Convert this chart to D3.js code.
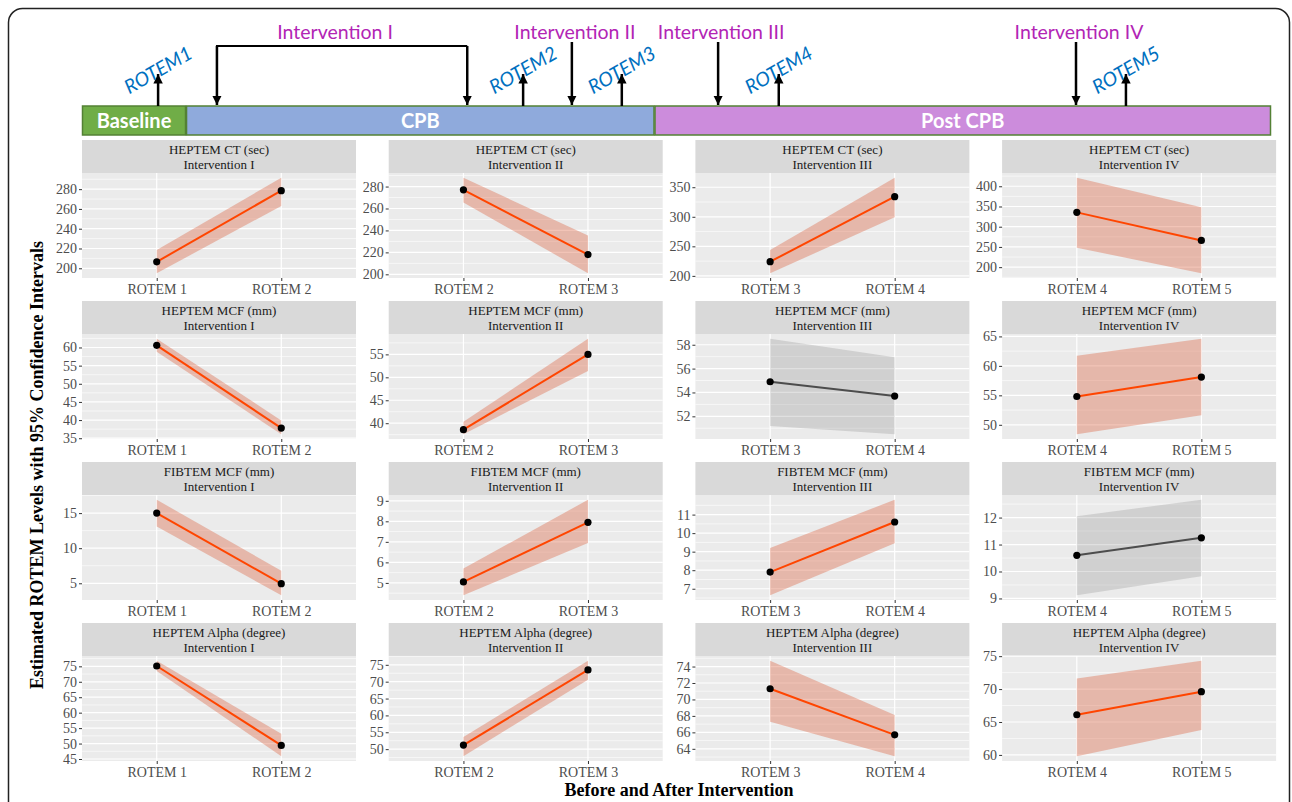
<!DOCTYPE html>
<html>
<head>
<meta charset="utf-8">
<script src="https://cdn.jsdelivr.net/npm/d3@7"></script>
<style>
  body { margin: 0; background: #fff; }
</style>
</head>
<body>
<div id="chart"></div>
<script>
// facet labels
var MEASURES = ["HEPTEM CT (sec)", "HEPTEM MCF (mm)", "FIBTEM MCF (mm)", "HEPTEM Alpha (degree)"];
var INTERVENTIONS = ["Intervention I", "Intervention II", "Intervention III", "Intervention IV"];
var TIMEPOINTS = [["ROTEM 1", "ROTEM 2"], ["ROTEM 2", "ROTEM 3"], ["ROTEM 3", "ROTEM 4"], ["ROTEM 4", "ROTEM 5"]];

// estimate, lower and upper 95% CI: one [before, after] pair per intervention
var ctEst  = [[206.5, 278.5], [277, 218], [224, 334], [335.5, 266]];
var ctLow  = [[195, 263], [265.5, 201], [204.5, 299], [248, 185]];
var ctHigh = [[218.5, 291.5], [288, 235.5], [244, 366], [421, 348]];
var ctTicks = [[200, 220, 240, 260, 280], [200, 220, 240, 260, 280], [200, 250, 300, 350], [200, 250, 300, 350, 400]];

var mcfEst  = [[60.6, 37.8], [38.6, 55.0], [54.9, 53.7], [54.8, 58.1]];
var mcfLow  = [[58.8, 36.1], [37.6, 51.4], [51.2, 50.5], [48.4, 51.6]];
var mcfHigh = [[62.4, 39.9], [40.3, 58.4], [58.5, 56.95], [61.7, 64.6]];
var mcfTicks = [[35, 40, 45, 50, 55, 60], [40, 45, 50, 55], [52, 54, 56, 58], [50, 55, 60, 65]];

var fibEst  = [[15.0, 4.95], [5.05, 7.95], [7.9, 10.6], [10.6, 11.25]];
var fibLow  = [[13.1, 3.3], [4.4, 6.95], [6.65, 9.45], [9.12, 9.82]];
var fibHigh = [[16.9, 6.8], [5.7, 9.05], [9.2, 11.8], [12.05, 12.66]];
var fibTicks = [[5, 10, 15], [5, 6, 7, 8, 9], [7, 8, 9, 10, 11], [9, 10, 11, 12]];

var alphaEst  = [[75.1, 49.4], [51.2, 73.5], [71.3, 65.7], [66.1, 69.6]];
var alphaLow  = [[73.5, 45.9], [47.9, 70.6], [67.3, 63.1], [59.8, 63.8]];
var alphaHigh = [[76.8, 53.2], [53.6, 76.2], [74.7, 68.1], [71.6, 74.3]];
var alphaTicks = [[45, 50, 55, 60, 65, 70, 75], [50, 55, 60, 65, 70, 75], [64, 66, 68, 70, 72, 74], [60, 65, 70, 75]];

// panels where the change was not significant (drawn grey)
var NOT_SIGNIFICANT = [["HEPTEM MCF (mm)", "Intervention III"], ["FIBTEM MCF (mm)", "Intervention IV"]];

// timeline diagram, positions in timeline units 0..100
var PHASES = ["Baseline", "CPB", "Post CPB"];
var phaseEnd = [8.75, 48.15, 100];
var ROTEM_LABELS = ["ROTEM1", "ROTEM2", "ROTEM3", "ROTEM4", "ROTEM5"];
var rotemAt = [6.4, 37.1, 45.4, 58.6, 87.8];
var interventionAt = [[11.35, 32.4], [41.2], [53.5], [83.6]];

var estAll = [ctEst, mcfEst, fibEst, alphaEst];
var lowAll = [ctLow, mcfLow, fibLow, alphaLow];
var highAll = [ctHigh, mcfHigh, fibHigh, alphaHigh];
var ticksAll = [ctTicks, mcfTicks, fibTicks, alphaTicks];

var W = 1292, H = 802;
var SERIF = "'Liberation Serif', 'Times New Roman', serif";
var SANS = "Lato, Carlito, Calibri, 'Open Sans', sans-serif";

var svg = d3.select("#chart").append("svg")
    .attr("width", W)
    .attr("height", H)
    .style("display", "block");

svg.append("rect")
    .attr("x", 8.5).attr("y", 8.5)
    .attr("width", 1281).attr("height", 830)
    .attr("rx", 14)
    .attr("fill", "#fff")
    .attr("stroke", "#222")
    .attr("stroke-width", 1.5);

// ---------- timeline ----------
var tx = d3.scaleLinear().domain([0, 100]).range([82, 1271]);
var barTop = 106, barH = 29;
var phaseColors = ["#70AD47", "#8FAADC", "#CC8CDC"];

var defs = svg.append("defs");
defs.append("marker")
    .attr("id", "head")
    .attr("viewBox", "0 0 10 10")
    .attr("refX", 10).attr("refY", 5)
    .attr("markerWidth", 3.8).attr("markerHeight", 3.8)
    .attr("markerUnits", "strokeWidth")
    .attr("orient", "auto")
    .append("path")
    .attr("d", "M0,0L10,5L0,10z")
    .attr("fill", "#000");

var tl = svg.append("g");
PHASES.forEach(function (p, i) {
    var x0 = tx(i === 0 ? 0 : phaseEnd[i - 1]), x1 = tx(phaseEnd[i]);
    tl.append("rect")
        .attr("x", x0 + 0.5).attr("y", barTop)
        .attr("width", x1 - x0 - 1).attr("height", barH)
        .attr("fill", phaseColors[i])
        .attr("stroke", "#538135")
        .attr("stroke-width", 1.5);
    tl.append("text")
        .attr("x", (x0 + x1) / 2).attr("y", barTop + barH / 2)
        .attr("dy", "0.35em")
        .attr("text-anchor", "middle")
        .style("font-family", SANS)
        .style("font-weight", "bold")
        .style("font-size", "20px")
        .attr("fill", "#fff")
        .text(p);
});

// up arrows at each ROTEM measurement
rotemAt.forEach(function (t, i) {
    tl.append("line")
        .attr("x1", tx(t)).attr("x2", tx(t))
        .attr("y1", barTop).attr("y2", 74)
        .attr("stroke", "#000").attr("stroke-width", 2.5)
        .attr("marker-end", "url(#head)");
    tl.append("text")
        .attr("transform", "translate(" + tx(t) + ",70) rotate(-30)")
        .attr("dy", "0.35em")
        .attr("text-anchor", "middle")
        .style("font-family", SANS)
        .style("font-style", "italic")
        .style("font-size", "19.5px")
        .attr("fill", "#0070C0")
        .text(ROTEM_LABELS[i]);
});

// down arrows (and a bracket for intervention I)
interventionAt.forEach(function (ts, i) {
    var topY = ts.length > 1 ? 46 : 42;
    if (ts.length > 1) {
        tl.append("path")
            .attr("d", "M" + tx(ts[0]) + "," + (barTop - 1) + "V" + topY + "H" + tx(ts[1]))
            .attr("fill", "none").attr("stroke", "#000").attr("stroke-width", 2);
    }
    ts.forEach(function (t) {
        tl.append("line")
            .attr("x1", tx(t)).attr("x2", tx(t))
            .attr("y1", topY).attr("y2", barTop - 1)
            .attr("stroke", "#000").attr("stroke-width", 2.5)
            .attr("marker-end", "url(#head)");
    });
    var cx = ts.length > 1 ? (tx(ts[0]) + tx(ts[1])) / 2 - 7 : tx(ts[0]) + 3;
    tl.append("text")
        .attr("x", cx).attr("y", 32)
        .attr("dy", "0.35em")
        .attr("text-anchor", "middle")
        .style("font-family", SANS)
        .style("font-size", "19.5px")
        .attr("fill", "#B225B5")
        .text(INTERVENTIONS[i]);
});

// ---------- facet grid ----------
var colLeft = 82, colStep = 306.7, panelW = 274;
var rowTop = 140, rowStep = 161, stripH = 33, plotH = 105;

function isGrey(m, iv) {
    return NOT_SIGNIFICANT.some(function (d) { return d[0] === m && d[1] === iv; });
}

MEASURES.forEach(function (measure, r) {
    INTERVENTIONS.forEach(function (iv, c) {
        var left = colLeft + colStep * c;
        var sTop = rowTop + rowStep * r;
        var pTop = sTop + stripH, pBot = pTop + plotH;

        var rows = TIMEPOINTS[c].map(function (tp, k) {
            return { tp: tp, est: estAll[r][c][k], lo: lowAll[r][c][k], hi: highAll[r][c][k] };
        });
        var ticks = ticksAll[r][c];

        var x = d3.scalePoint().domain(TIMEPOINTS[c]).range([left, left + panelW]).padding(0.6);
        var lo = d3.min(rows, function (d) { return d.lo; });
        var hi = d3.max(rows, function (d) { return d.hi; });
        var pad = (hi - lo) * 0.05;
        var y = d3.scaleLinear().domain([lo - pad, hi + pad]).range([pBot, pTop]);

        var g = svg.append("g");

        // strip
        g.append("rect")
            .attr("x", left).attr("y", sTop)
            .attr("width", panelW).attr("height", stripH)
            .attr("fill", "#D9D9D9");
        [measure, iv].forEach(function (s, k) {
            g.append("text")
                .attr("x", left + panelW / 2).attr("y", sTop + 9 + k * 15.5)
                .attr("dy", "0.35em")
                .attr("text-anchor", "middle")
                .style("font-family", SERIF)
                .style("font-size", "13px")
                .attr("fill", "#1A1A1A")
                .text(s);
        });

        // panel background + grid
        g.append("rect")
            .attr("x", left).attr("y", pTop)
            .attr("width", panelW).attr("height", plotH)
            .attr("fill", "#EBEBEB");

        var step = ticks[1] - ticks[0];
        var minor = [];
        for (var v = ticks[0] - step / 2; v <= y.domain()[1]; v += step) {
            if (v >= y.domain()[0]) minor.push(v);
        }
        g.selectAll(".minor").data(minor).enter().append("line")
            .attr("x1", left).attr("x2", left + panelW)
            .attr("y1", y).attr("y2", y)
            .attr("stroke", "#fff").attr("stroke-width", 0.6);
        g.selectAll(".major").data(ticks).enter().append("line")
            .attr("x1", left).attr("x2", left + panelW)
            .attr("y1", y).attr("y2", y)
            .attr("stroke", "#fff").attr("stroke-width", 1.2);
        g.selectAll(".vmajor").data(TIMEPOINTS[c]).enter().append("line")
            .attr("x1", x).attr("x2", x)
            .attr("y1", pTop).attr("y2", pBot)
            .attr("stroke", "#fff").attr("stroke-width", 1.2);

        var grey = isGrey(measure, iv);

        g.append("path")
            .datum(rows)
            .attr("d", d3.area()
                .x(function (d) { return x(d.tp); })
                .y0(function (d) { return y(d.lo); })
                .y1(function (d) { return y(d.hi); }))
            .attr("fill", grey ? "#666" : "#DA5631")
            .attr("fill-opacity", grey ? 0.2 : 0.35);

        g.append("path")
            .datum(rows)
            .attr("d", d3.line()
                .x(function (d) { return x(d.tp); })
                .y(function (d) { return y(d.est); }))
            .attr("fill", "none")
            .attr("stroke", grey ? "#4D4D4D" : "#FF4500")
            .attr("stroke-width", 2);

        g.selectAll("circle").data(rows).enter().append("circle")
            .attr("cx", function (d) { return x(d.tp); })
            .attr("cy", function (d) { return y(d.est); })
            .attr("r", 3.6)
            .attr("fill", "#000");

        // axes
        var ya = g.append("g")
            .attr("transform", "translate(" + left + ",0)")
            .call(d3.axisLeft(y).tickValues(ticks).tickFormat(d3.format("d")).tickSize(3).tickPadding(2));
        var xa = g.append("g")
            .attr("transform", "translate(0," + pBot + ")")
            .call(d3.axisBottom(x).tickSize(3).tickPadding(3));
        [ya, xa].forEach(function (a) {
            a.select(".domain").remove();
            a.selectAll(".tick line").attr("stroke", "#333");
            a.selectAll(".tick text")
                .style("font-family", SERIF)
                .style("font-size", "14px")
                .attr("fill", "#4D4D4D");
        });
    });
});

// axis titles
svg.append("text")
    .attr("transform", "translate(43,465) rotate(-90)")
    .attr("text-anchor", "middle")
    .style("font-family", SERIF)
    .style("font-weight", "bold")
    .style("font-size", "18px")
    .attr("fill", "#000")
    .text("Estimated ROTEM Levels with 95% Confidence Intervals");

svg.append("text")
    .attr("x", 679).attr("y", 796)
    .attr("text-anchor", "middle")
    .style("font-family", SERIF)
    .style("font-weight", "bold")
    .style("font-size", "18px")
    .attr("fill", "#000")
    .text("Before and After Intervention");
</script>
</body>
</html>
